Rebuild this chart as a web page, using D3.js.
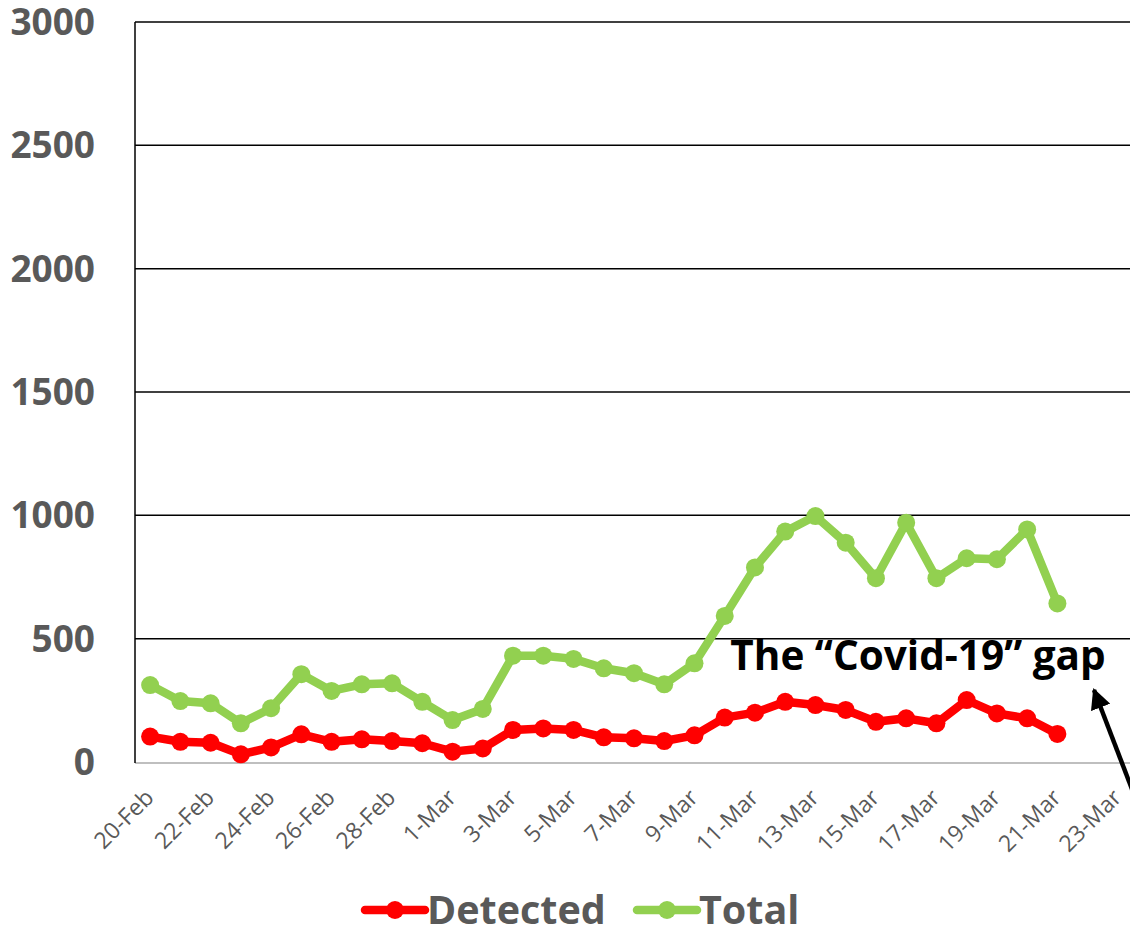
<!DOCTYPE html>
<html>
<head>
<meta charset="utf-8">
<script src="https://cdn.jsdelivr.net/npm/d3@7"></script>
<style>
  body { margin: 0; background: #fff; }
  svg { display: block; }
</style>
</head>
<body>
<svg width="1130" height="934"></svg>
<script>
// days with data, 20-Feb .. 21-Mar (2020, leap year)
const days = ['20-Feb','21-Feb','22-Feb','23-Feb','24-Feb','25-Feb','26-Feb','27-Feb','28-Feb','29-Feb',
  '1-Mar','2-Mar','3-Mar','4-Mar','5-Mar','6-Mar','7-Mar','8-Mar','9-Mar','10-Mar','11-Mar','12-Mar',
  '13-Mar','14-Mar','15-Mar','16-Mar','17-Mar','18-Mar','19-Mar','20-Mar','21-Mar'];
const extraDays = ['22-Mar','23-Mar'];
const tickLabels = ['20-Feb','22-Feb','24-Feb','26-Feb','28-Feb','1-Mar','3-Mar','5-Mar','7-Mar',
  '9-Mar','11-Mar','13-Mar','15-Mar','17-Mar','19-Mar','21-Mar','23-Mar'];
const yTicks = [0, 500, 1000, 1500, 2000, 2500, 3000];

const detected = [103, 82, 78, 31, 59, 112, 82, 92, 85, 76, 42, 55, 130, 136, 130, 100, 96, 85, 108,
  180, 200, 244, 231, 211, 163, 177, 157, 251, 197, 177, 114];
const total = [312, 247, 238, 157, 218, 356, 288, 315, 319, 244, 170, 215, 431, 431, 418, 380, 360, 315, 400,
  592, 789, 934, 997, 889, 745, 970, 745, 826, 822, 943, 643];

const series = [
  { name: 'Detected', values: detected, color: '#ff0000' },
  { name: 'Total', values: total, color: '#92d050' }
];

const svg = d3.select('svg');
const plotLeft = 135, plotRight = 1133, plotTop = 22, plotBottom = 762;

const x = d3.scaleBand()
  .domain(days.concat(extraDays))
  .range([plotLeft, plotRight]);
const cx = d => x(d) + x.bandwidth() / 2;

const y = d3.scaleLinear()
  .domain([0, 3000])
  .range([plotBottom, plotTop]);

// gridlines
svg.append('g')
  .selectAll('line')
  .data(yTicks.filter(t => t > 0))
  .enter()
  .append('line')
    .attr('x1', plotLeft)
    .attr('x2', 1130)
    .attr('y1', d => y(d))
    .attr('y2', d => y(d))
    .attr('stroke', '#000')
    .attr('stroke-width', 1.5);

// y labels
svg.append('g')
  .selectAll('text')
  .data(yTicks)
  .enter()
  .append('text')
    .attr('x', 95)
    .attr('y', d => y(d) + 13)
    .attr('text-anchor', 'end')
    .attr('font-family', 'Open Sans')
    .attr('font-weight', 700)
    .attr('font-size', '37px')
    .attr('fill', '#595959')
    .text(d => d);

// axes lines
svg.append('line')
  .attr('x1', plotLeft).attr('x2', 1130)
  .attr('y1', plotBottom + 1).attr('y2', plotBottom + 1)
  .attr('stroke', '#bfbfbf').attr('stroke-width', 2);
svg.append('line')
  .attr('x1', plotLeft).attr('x2', plotLeft)
  .attr('y1', plotTop).attr('y2', plotBottom + 1)
  .attr('stroke', '#000').attr('stroke-width', 1.5);

// x tick labels
let xAxis = svg.append('g')
  .attr('transform', `translate(0,${plotBottom})`)
  .call(d3.axisBottom(x).tickValues(tickLabels).tickSize(0));
xAxis.select('.domain').remove();
xAxis.selectAll('text')
  .attr('font-family', 'Open Sans')
  .attr('font-size', '23px')
  .attr('fill', '#595959')
  .attr('text-anchor', 'end')
  .attr('dy', 0)
  .attr('transform', 'translate(5,37) rotate(-45)')
  .attr('y', 0)
  .attr('x', 0);

// lines + markers
let line = d3.line()
  .x((d, i) => cx(days[i]))
  .y(d => y(d));

series.forEach(s => {
  let g = svg.append('g');
  g.append('path')
    .attr('d', line(s.values))
    .attr('fill', 'none')
    .attr('stroke', s.color)
    .attr('stroke-width', 8.5)
    .attr('stroke-linejoin', 'round');
  g.selectAll('circle')
    .data(s.values)
    .enter()
    .append('circle')
      .attr('cx', (d, i) => cx(days[i]))
      .attr('cy', d => y(d))
      .attr('r', 9)
      .attr('fill', s.color);
});

// annotation
svg.append('text')
  .attr('x', 918)
  .attr('y', 670)
  .attr('text-anchor', 'middle')
  .attr('font-family', 'Open Sans')
  .attr('font-weight', 700)
  .attr('font-size', '40.5px')
  .attr('fill', '#000')
  .text('The \u201CCovid-19\u201D gap');

svg.append('defs').append('marker')
  .attr('id', 'arrow')
  .attr('viewBox', '0 0 10 10')
  .attr('refX', 9).attr('refY', 5)
  .attr('markerWidth', 4.6).attr('markerHeight', 4.6)
  .attr('orient', 'auto')
  .append('path')
    .attr('d', 'M0,0 L10,5 L0,10 z')
    .attr('fill', '#000');

svg.append('line')
  .attr('x1', 1140).attr('y1', 810)
  .attr('x2', 1094).attr('y2', 690)
  .attr('stroke', '#000')
  .attr('stroke-width', 4.5)
  .attr('marker-end', 'url(#arrow)');

// legend
let legend = svg.append('g').attr('transform', 'translate(0,910)');
let lx = [365, 637];
series.forEach((s, i) => {
  let g = legend.append('g').attr('transform', `translate(${lx[i]},0)`);
  g.append('line')
    .attr('x1', 0).attr('x2', 60)
    .attr('stroke', s.color).attr('stroke-width', 8.5)
    .attr('stroke-linecap', 'round');
  g.append('circle')
    .attr('cx', 30).attr('r', 9)
    .attr('fill', s.color);
  g.append('text')
    .attr('x', 62)
    .attr('y', 14)
    .attr('font-family', 'Open Sans')
    .attr('font-weight', 700)
    .attr('font-size', '39.5px')
    .attr('fill', '#595959')
    .text(s.name);
});
</script>
</body>
</html>
